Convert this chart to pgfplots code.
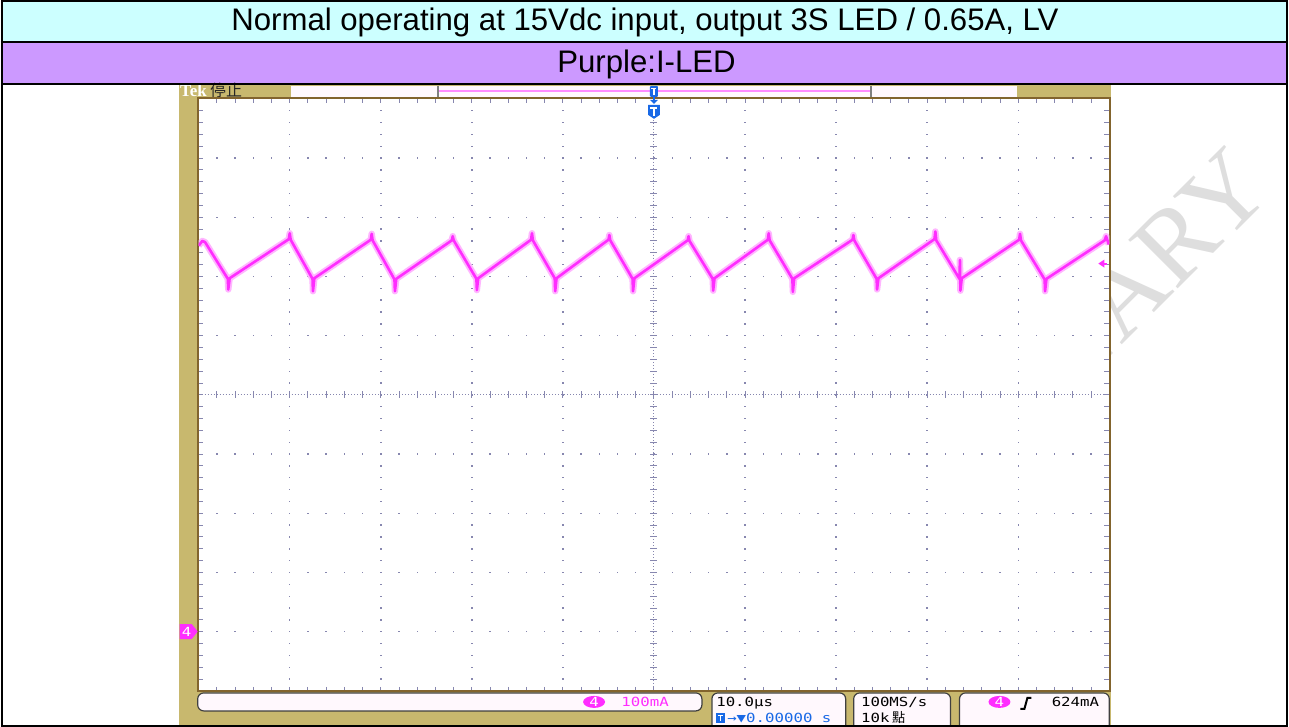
\documentclass[border=0pt]{standalone}
\usepackage{fontspec}
\setmainfont{Liberation Sans}
\newfontfamily\tekfont{DejaVu Sans Mono}
\newfontfamily\serifb{Liberation Serif}
\newfontfamily\cjk{Noto Sans CJK TC}
\usepackage{pgfplots}
\usepackage{pgfplotstable}
\pgfplotsset{compat=1.18}

\definecolor{rowcyan}{RGB}{204,255,255}
\definecolor{rowpurple}{RGB}{204,153,255}
\definecolor{tekbg}{RGB}{200,184,110}
\definecolor{tekedge}{RGB}{130,100,45}
\definecolor{gridc}{RGB}{135,135,175}
\definecolor{trace}{RGB}{255,45,255}
\definecolor{trigblue}{RGB}{25,105,230}
\definecolor{boxfill}{RGB}{255,248,253}

% I-LED, time in us, current in mA
\pgfplotstableread{
t i
-50.0 652
-49.6 660
-49.3 658
-46.8 596
-46.75 578
-46.6 597
-40.1 663
-40.0 673
-39.9 662
-37.5 596
-37.45 575
-37.3 597
-31.1 662
-31.0 672
-30.9 661
-28.5 595
-28.45 575
-28.3 596
-22.2 661
-22.1 668
-22.0 661
-19.5 596
-19.45 577
-19.3 597
-13.5 662
-13.4 673
-13.3 661
-10.9 597
-10.85 575
-10.7 597
-5.0 662
-4.9 670
-4.8 661
-2.35 596
-2.3 575
-2.15 597
3.7 661
3.8 668
3.9 660
6.45 596
6.5 576
6.65 597
12.5 662
12.6 673
12.7 661
15.2 596
15.25 574
15.4 597
21.8 662
21.9 670
22.0 661
24.45 596
24.5 578
24.65 597
30.8 663
30.9 676
31.0 661
33.55 596
33.6 628
33.65 576
33.8 597
40.1 662
40.2 672
40.3 661
42.9 595
42.95 575
43.1 596
49.5 661
49.65 668
49.95 654
}\iled

\newcommand{\tek}[1]{\scalebox{1.25}[1]{\tekfont\fontsize{6.3}{6.3}\selectfont #1}}

\begin{document}
\begin{tikzpicture}
\begin{scope}[x=0.5pt,y=-0.5pt]
  \useasboundingbox (0,0) rectangle (1289,728);
  \fill[white] (0,0) rectangle (1289,728);
  \fill[rowcyan] (0,0) rectangle (1289,42);
  \fill[rowpurple] (0,42) rectangle (1289,84);
  \node[anchor=base, inner sep=0, font=\fontsize{15.6}{16}\selectfont] at (645,31)
    {Normal operating at 15Vdc input, output 3S LED / 0.65A, LV};
  \node[anchor=base, inner sep=0, font=\fontsize{15.6}{16}\selectfont] at (646.5,73)
    {Purple:I-LED};
  % watermark, mostly hidden behind the screen shot
  \node[rotate=45, anchor=base east, inner sep=0, text=black!13,
        font=\serifb\fontsize{53}{53}\selectfont] at (1277,192) {PRELIMINARY};

  % scope frame
  \fill[tekbg] (178,85) rectangle (1112,726);
  \fill[boxfill] (290,86) rectangle (1018,98);
  \draw[trace!55, line width=1pt] (438,91) -- (871,91);
  \draw[gray, line width=1pt] (437.5,86.5) -- (437.5,97) (871.5,86.5) -- (871.5,97);
  \node[anchor=base west, inner sep=0, text=white,
        font=\serifb\bfseries\fontsize{8.5}{9}\selectfont] at (179,97) {Tek};
  \node[anchor=base west, inner sep=0, text=black!85,
        font=\cjk\fontsize{8}{8}\selectfont] at (209,97) {停止};

  % graticule
  \fill[white] (198,99) rectangle (1110,692);
  \foreach \i in {1,2,3,4,6,7,8,9} {
    \foreach \j in {1,...,49} {
      \fill[gridc] ({198+\i*91.2-0.7},{99+\j*11.86-0.7}) rectangle +(1.4,1.4);
    }
  }
  \foreach \j in {1,2,3,4,6,7,8,9} {
    \foreach \k in {1,...,49} {
      \fill[gridc] ({198+\k*18.24-0.7},{99+\j*59.3-0.7}) rectangle +(1.4,1.4);
    }
  }
  \draw[gridc, line width=0.5pt, dash pattern=on 0.5pt off 1pt] (654,99) -- (654,692);
  \draw[gridc, line width=0.5pt, dash pattern=on 0.5pt off 1pt] (198,395.5) -- (1110,395.5);
  \foreach \j in {1,...,49} {
    \draw[gridc, line width=0.5pt] (650.5,{99+\j*11.86}) -- (657.5,{99+\j*11.86});
    \draw[gridc, line width=0.5pt] (198,{99+\j*11.86}) -- (202,{99+\j*11.86});
    \draw[gridc, line width=0.5pt] (1105,{99+\j*11.86}) -- (1110,{99+\j*11.86});
  }
  \foreach \k in {1,...,49} {
    \draw[gridc, line width=0.5pt] ({198+\k*18.24},392) -- ({198+\k*18.24},399);
    \draw[gridc, line width=0.5pt] ({198+\k*18.24},99) -- ({198+\k*18.24},103);
    \draw[gridc, line width=0.5pt] ({198+\k*18.24},688) -- ({198+\k*18.24},692);
  }
  \draw[tekedge, line width=1pt] (197.5,98.5) rectangle (1110.5,692.5);
\end{scope}

\begin{axis}[
    at={(99pt,-49.5pt)}, anchor=north west,
    scale only axis, width=456pt, height=296.5pt,
    xmin=-50, xmax=50, ymin=-100, ymax=900,
    hide axis,
  ]
  \addplot[trace!35, line width=3.2pt, line join=round] table[x=t, y=i] {\iled};
  \addplot[trace, line width=1.3pt, line join=round] table[x=t, y=i] {\iled};
\end{axis}

\begin{scope}[x=0.5pt,y=-0.5pt]
  % trigger position
  \fill[trigblue, rounded corners=0.5pt] (650,86) rectangle (658,97);
  \draw[white, line width=0.6pt] (651.5,88.5) -- (656.5,88.5) (654,88.5) -- (654,95);
  \draw[trigblue, line width=1pt] (654,97) -- (654,101);
  \fill[trigblue] (650,100) -- (658,100) -- (654,104) -- cycle;
  \fill[trigblue] (648,105) -- (660,105) -- (660,115) -- (654,119) -- (648,115) -- cycle;
  \draw[white, line width=1pt] (650.5,108) -- (657.5,108) (654,108) -- (654,116);
  % channel 4 ground marker
  \fill[trace] (179,625) -- (191,625) -- (197,632.5) -- (191,640) -- (179,640) -- cycle;
  \node[text=white, inner sep=0] at (186,632.5) {\tek{4}};
  % trigger level
  \draw[trace, line width=1pt] (1101,264) -- (1108,264);
  \fill[trace] (1099,264) -- (1105,260) -- (1105,268) -- cycle;

  % readouts
  \begin{scope}
    \clip (178,85) rectangle (1112,726);
    \draw[black!75, fill=boxfill, line width=0.6pt, rounded corners=3pt] (197,694) rectangle (702,712);
    \draw[black!75, fill=boxfill, line width=0.6pt, rounded corners=3pt] (712,694) rectangle (846,740);
    \draw[black!75, fill=boxfill, line width=0.6pt, rounded corners=3pt] (854,694) rectangle (951,740);
    \draw[black!75, fill=boxfill, line width=0.6pt, rounded corners=3pt] (960,694) rectangle (1110,740);
  \end{scope}
  \fill[trace] (594,703) ellipse (11 and 6);
  \node[text=white, inner sep=0] at (594,703) {\tek{4}};
  \node[anchor=base west, inner sep=0, text=trace] at (621,707.5) {\tek{100mA}};
  \node[anchor=base west, inner sep=0, text depth=0pt] at (716,707.5) {\tek{10.0µs}};
  \fill[trigblue] (716,714.5) rectangle (725,724);
  \draw[white, line width=0.6pt] (718,716.5) -- (723,716.5) (720.5,716.5) -- (720.5,722.5);
  \node[anchor=base west, inner sep=0, text=trigblue] at (727,723.5) {\tek{→▼0.00000 s}};
  \node[anchor=base west, inner sep=0, text depth=0pt] at (861,707.5) {\tek{100MS/s}};
  \node[anchor=base west, inner sep=0] at (861,723.5) {\tek{10k}};
  \node[anchor=base west, inner sep=0, font=\cjk\fontsize{6.6}{7}\selectfont] at (892,723.5) {點};
  \fill[trace] (1000,703) ellipse (11 and 6);
  \node[text=white, inner sep=0] at (1000,703) {\tek{4}};
  \draw[black, line width=1pt] (1021,710) -- (1025,710) -- (1028,699) -- (1032,699);
  \node[anchor=base west, inner sep=0] at (1052,707.5) {\tek{624mA}};

  % table rules
  \draw[black, line width=1pt] (1,1) rectangle (1288,727);
  \draw[black, line width=1pt] (0,42) -- (1289,42) (0,84) -- (1289,84);
\end{scope}
\end{tikzpicture}
\end{document}
